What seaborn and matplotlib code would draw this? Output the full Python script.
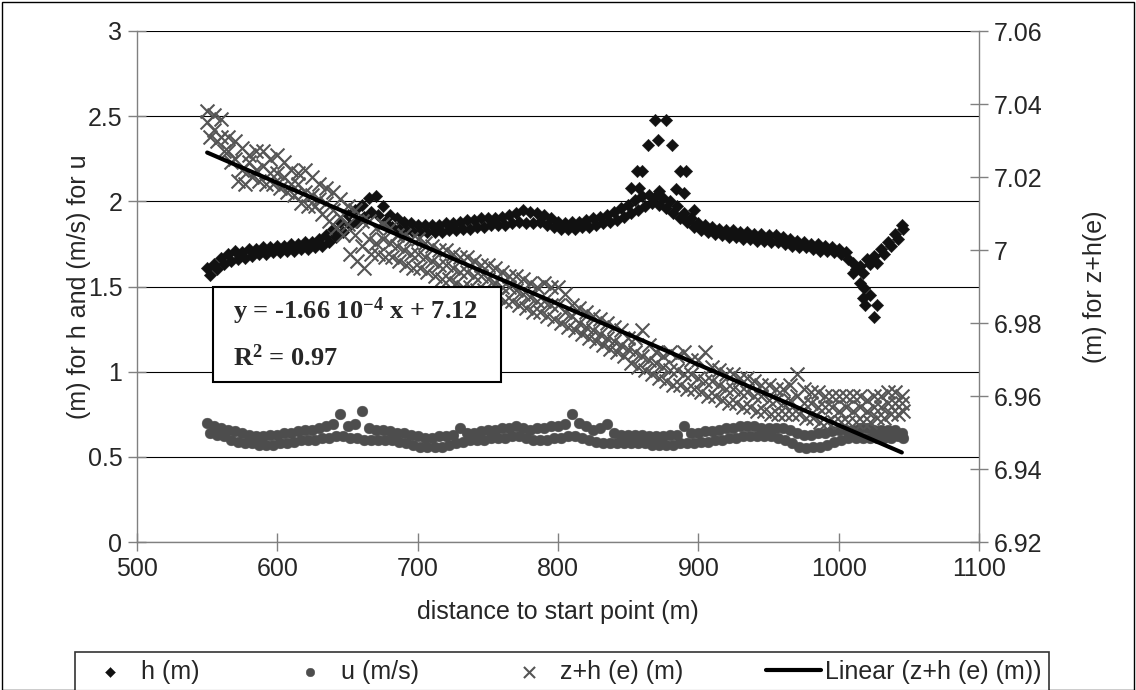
import numpy as np
import pandas as pd
import matplotlib
matplotlib.use("Agg")
import matplotlib.pyplot as plt
import seaborn as sns
from matplotlib.patches import Rectangle
from matplotlib.ticker import FuncFormatter

# distance along the reach (m), read every 5 m
DIST = [550, 555, 560, 565, 570, 575, 580, 585, 590, 595,
        600, 605, 610, 615, 620, 625, 630, 635, 640, 645,
        650, 655, 660, 665, 670, 675, 680, 685, 690, 695,
        700, 705, 710, 715, 720, 725, 730, 735, 740, 745,
        750, 755, 760, 765, 770, 775, 780, 785, 790, 795,
        800, 805, 810, 815, 820, 825, 830, 835, 840, 845,
        850, 855, 860, 865, 870, 875, 880, 885, 890, 895,
        900, 905, 910, 915, 920, 925, 930, 935, 940, 945,
        950, 955, 960, 965, 970, 975, 980, 985, 990, 995,
        1000, 1005, 1010, 1015, 1020, 1025, 1030, 1035, 1040, 1045]
# second set of readings, taken between the first ones
DIST_MID = [552, 557, 562, 567, 572, 577, 582, 587, 592, 597,
            602, 607, 612, 617, 622, 627, 632, 637, 642, 647,
            652, 657, 662, 667, 672, 677, 682, 687, 692, 697,
            702, 707, 712, 717, 722, 727, 732, 737, 742, 747,
            752, 757, 762, 767, 772, 777, 782, 787, 792, 797,
            802, 807, 812, 817, 822, 827, 832, 837, 842, 847,
            852, 857, 862, 867, 872, 877, 882, 887, 892, 897,
            902, 907, 912, 917, 922, 927, 932, 937, 942, 947,
            952, 957, 962, 967, 972, 977, 982, 987, 992, 997,
            1002, 1007, 1012, 1017, 1022, 1027, 1032, 1037, 1042, 1046]

# h (m): upper and lower edge of the band
H_A = [1.61, 1.63, 1.67, 1.69, 1.71, 1.70, 1.72, 1.72, 1.73, 1.73,
       1.74, 1.74, 1.75, 1.75, 1.76, 1.76, 1.78, 1.80, 1.84, 1.88,
       1.92, 1.95, 1.98, 2.02, 2.03, 1.97, 1.92, 1.90, 1.88, 1.87,
       1.86, 1.86, 1.86, 1.86, 1.87, 1.87, 1.88, 1.89, 1.89, 1.90,
       1.90, 1.90, 1.91, 1.92, 1.93, 1.95, 1.94, 1.93, 1.92, 1.90,
       1.88, 1.87, 1.88, 1.88, 1.89, 1.90, 1.91, 1.92, 1.94, 1.96,
       1.98, 2.01, 2.03, 2.04, 2.03, 2.02, 2.00, 1.97, 1.93, 1.90,
       1.87, 1.86, 1.85, 1.84, 1.83, 1.83, 1.82, 1.82, 1.81, 1.81,
       1.80, 1.80, 1.79, 1.78, 1.77, 1.76, 1.75, 1.75, 1.74, 1.73,
       1.72, 1.70, 1.64, 1.62, 1.66, 1.68, 1.72, 1.76, 1.81, 1.86]
H_B = [1.57, 1.60, 1.63, 1.65, 1.66, 1.67, 1.68, 1.69, 1.69, 1.70,
       1.70, 1.71, 1.71, 1.72, 1.72, 1.73, 1.74, 1.76, 1.79, 1.82,
       1.86, 1.88, 1.91, 1.94, 1.92, 1.88, 1.85, 1.84, 1.83, 1.82,
       1.82, 1.82, 1.82, 1.82, 1.83, 1.83, 1.84, 1.84, 1.85, 1.85,
       1.86, 1.86, 1.86, 1.87, 1.88, 1.87, 1.87, 1.88, 1.86, 1.85,
       1.84, 1.84, 1.84, 1.85, 1.85, 1.86, 1.87, 1.88, 1.89, 1.91,
       1.93, 1.95, 1.97, 1.99, 1.98, 1.96, 1.93, 1.90, 1.88, 1.85,
       1.83, 1.82, 1.81, 1.80, 1.79, 1.79, 1.78, 1.78, 1.77, 1.77,
       1.76, 1.76, 1.75, 1.74, 1.73, 1.73, 1.72, 1.71, 1.71, 1.70,
       1.69, 1.66, 1.60, 1.58, 1.63, 1.64, 1.69, 1.74, 1.78, 1.84]
# scattered h points around the bump at ~870 m and the dip at ~1020 m
H_EXTRA_X = [864, 869, 871, 877, 881, 856, 860, 887, 891, 852, 858, 872,
             884, 890, 897, 1010, 1015, 1017, 1018, 1019, 1025, 1027, 1022]
H_EXTRA_Y = [2.33, 2.48, 2.36, 2.48, 2.33, 2.18, 2.18, 2.18, 2.18, 2.08, 2.08, 2.06,
             2.07, 2.05, 1.95, 1.58, 1.52, 1.43, 1.49, 1.39, 1.32, 1.39, 1.45]

# u (m/s): upper and lower edge of the band
U_A = [0.70, 0.68, 0.67, 0.66, 0.65, 0.64, 0.63, 0.62, 0.62, 0.63,
       0.63, 0.64, 0.64, 0.65, 0.66, 0.66, 0.67, 0.68, 0.69, 0.75,
       0.68, 0.69, 0.77, 0.67, 0.66, 0.66, 0.65, 0.64, 0.64, 0.63,
       0.62, 0.61, 0.61, 0.62, 0.62, 0.63, 0.67, 0.64, 0.64, 0.65,
       0.66, 0.66, 0.67, 0.67, 0.68, 0.67, 0.66, 0.67, 0.67, 0.68,
       0.68, 0.69, 0.75, 0.70, 0.68, 0.66, 0.67, 0.69, 0.64, 0.63,
       0.63, 0.63, 0.63, 0.62, 0.62, 0.62, 0.63, 0.63, 0.68, 0.64,
       0.64, 0.65, 0.65, 0.66, 0.67, 0.67, 0.68, 0.68, 0.68, 0.67,
       0.67, 0.67, 0.67, 0.66, 0.64, 0.63, 0.63, 0.64, 0.64, 0.65,
       0.66, 0.66, 0.66, 0.67, 0.67, 0.66, 0.66, 0.66, 0.66, 0.64]
U_B = [0.64, 0.63, 0.62, 0.60, 0.59, 0.58, 0.58, 0.57, 0.57, 0.57,
       0.58, 0.58, 0.59, 0.60, 0.60, 0.60, 0.61, 0.61, 0.62, 0.62,
       0.61, 0.61, 0.60, 0.60, 0.60, 0.60, 0.60, 0.59, 0.58, 0.57,
       0.56, 0.56, 0.56, 0.56, 0.57, 0.58, 0.59, 0.60, 0.60, 0.60,
       0.61, 0.61, 0.61, 0.62, 0.62, 0.61, 0.60, 0.60, 0.60, 0.61,
       0.61, 0.62, 0.62, 0.61, 0.60, 0.59, 0.58, 0.58, 0.58, 0.58,
       0.58, 0.58, 0.58, 0.57, 0.57, 0.57, 0.57, 0.58, 0.58, 0.58,
       0.59, 0.59, 0.60, 0.60, 0.61, 0.61, 0.62, 0.62, 0.62, 0.62,
       0.62, 0.61, 0.60, 0.58, 0.56, 0.55, 0.56, 0.56, 0.57, 0.59,
       0.60, 0.61, 0.61, 0.61, 0.61, 0.61, 0.61, 0.61, 0.62, 0.61]

# z+h (e) (m) on the right axis: upper edge, middle and lower edge of the cloud
ZH_A = [7.038, 7.037, 7.036, 7.031, 7.030, 7.028, 7.026, 7.027, 7.027, 7.025,
        7.026, 7.024, 7.022, 7.021, 7.022, 7.020, 7.018, 7.017, 7.016, 7.014,
        7.012, 7.011, 7.008, 7.008, 7.006, 7.007, 7.006, 7.004, 7.004, 7.003,
        7.003, 7.002, 7.001, 7.000, 7.000, 6.999, 6.998, 6.998, 6.997, 6.996,
        6.996, 6.995, 6.994, 6.993, 6.993, 6.992, 6.991, 6.990, 6.991, 6.990,
        6.990, 6.988, 6.985, 6.984, 6.983, 6.982, 6.981, 6.980, 6.979, 6.978,
        6.976, 6.976, 6.978, 6.974, 6.972, 6.971, 6.972, 6.971, 6.972, 6.970,
        6.970, 6.972, 6.968, 6.967, 6.966, 6.966, 6.965, 6.965, 6.964, 6.963,
        6.963, 6.962, 6.962, 6.963, 6.966, 6.962, 6.961, 6.961, 6.960, 6.960,
        6.960, 6.960, 6.960, 6.960, 6.959, 6.960, 6.960, 6.961, 6.961, 6.960]
ZH_C = [7.035, 7.033, 7.031, 7.027, 7.025, 7.022, 7.024, 7.022, 7.023, 7.021,
        7.021, 7.020, 7.018, 7.018, 7.016, 7.015, 7.014, 7.013, 7.011, 7.009,
        7.007, 7.004, 7.001, 7.003, 7.002, 7.003, 7.002, 7.001, 7.000, 6.999,
        6.999, 6.998, 6.997, 6.996, 6.996, 6.995, 6.994, 6.994, 6.993, 6.993,
        6.992, 6.991, 6.990, 6.990, 6.989, 6.988, 6.987, 6.986, 6.986, 6.985,
        6.985, 6.983, 6.982, 6.980, 6.979, 6.978, 6.977, 6.976, 6.975, 6.974,
        6.973, 6.972, 6.971, 6.970, 6.969, 6.968, 6.967, 6.967, 6.966, 6.966,
        6.965, 6.964, 6.964, 6.963, 6.962, 6.962, 6.961, 6.961, 6.960, 6.960,
        6.959, 6.959, 6.958, 6.959, 6.960, 6.958, 6.958, 6.957, 6.957, 6.957,
        6.956, 6.957, 6.956, 6.957, 6.956, 6.957, 6.957, 6.958, 6.958, 6.958]
ZH_B = [7.031, 7.030, 7.027, 7.024, 7.019, 7.018, 7.020, 7.019, 7.018, 7.018,
        7.017, 7.016, 7.015, 7.013, 7.012, 7.012, 7.010, 7.008, 7.006, 7.004,
        6.999, 6.997, 6.995, 6.999, 6.999, 6.998, 6.998, 6.997, 6.996, 6.995,
        6.995, 6.994, 6.993, 6.992, 6.992, 6.991, 6.990, 6.990, 6.989, 6.989,
        6.988, 6.987, 6.986, 6.986, 6.985, 6.984, 6.983, 6.983, 6.982, 6.981,
        6.980, 6.979, 6.978, 6.977, 6.976, 6.975, 6.974, 6.973, 6.972, 6.971,
        6.969, 6.968, 6.967, 6.966, 6.965, 6.964, 6.963, 6.963, 6.962, 6.962,
        6.961, 6.960, 6.960, 6.959, 6.958, 6.958, 6.957, 6.957, 6.956, 6.956,
        6.955, 6.955, 6.955, 6.955, 6.955, 6.954, 6.954, 6.953, 6.953, 6.953,
        6.953, 6.953, 6.953, 6.953, 6.953, 6.954, 6.954, 6.955, 6.955, 6.956]

# Excel linear trendline of z+h (e), as printed in the box
TREND_SLOPE = -1.66e-4
TREND_INTERCEPT = 7.118
TREND_X = [550, 1045]

LABELS = ["h (m)", "u (m/s)", "z+h (e) (m)", "Linear (z+h (e) (m))"]

sns.set_style("white")
plt.rcParams["font.family"] = ["Liberation Sans", "DejaVu Sans"]
plt.rcParams["mathtext.fontset"] = "custom"
plt.rcParams["mathtext.bf"] = "Liberation Serif:bold"
plt.rcParams["mathtext.rm"] = "Liberation Serif:bold"
plt.rcParams["mathtext.default"] = "bf"

df_h = pd.DataFrame({"x": DIST + DIST_MID + H_EXTRA_X, "v": H_A + H_B + H_EXTRA_Y})
df_u = pd.DataFrame({"x": DIST + DIST_MID, "v": U_A + U_B})
df_z = pd.DataFrame({"x": DIST + DIST + DIST_MID, "v": ZH_A + ZH_C + ZH_B})
df_t = pd.DataFrame({"x": TREND_X,
                     "v": [TREND_SLOPE * x + TREND_INTERCEPT for x in TREND_X]})

fig = plt.figure(figsize=(11.36, 6.90), dpi=100)
ax = fig.add_axes([137 / 1136, 1 - 542 / 690, 842 / 1136, 511 / 690])
ax2 = ax.twinx()

sns.scatterplot(data=df_h, x="x", y="v", ax=ax, marker="D", s=40, color="#111111",
                edgecolor="#111111", linewidth=0.3, label=LABELS[0], legend=False)
sns.scatterplot(data=df_u, x="x", y="v", ax=ax, marker="o", s=60, color="#4d4d4d",
                edgecolor="#4d4d4d", linewidth=0.3, label=LABELS[1], legend=False)
sns.scatterplot(data=df_z, x="x", y="v", ax=ax2, marker="x", s=100, color="#555555",
                linewidth=1.5, label=LABELS[2], legend=False)
sns.lineplot(data=df_t, x="x", y="v", ax=ax2, color="black", linewidth=3,
             label=LABELS[3], legend=False)

ax.set_xlim(500, 1100)
ax.set_ylim(0, 3)
ax2.set_ylim(6.92, 7.06)
ax.set_xticks(range(500, 1101, 100))
ax.set_yticks(np.arange(0, 3.01, 0.5))
ax2.set_yticks(np.arange(6.92, 7.061, 0.02))
fmt = FuncFormatter(lambda v, p: "{:g}".format(round(v, 4)))
ax.yaxis.set_major_formatter(fmt)
ax2.yaxis.set_major_formatter(fmt)

ax.grid(axis="y", color="black", linewidth=0.8)
ax.grid(axis="x", visible=False)
ax.set_axisbelow(True)

for a in (ax, ax2):
    a.spines["top"].set_visible(False)
ax.spines["right"].set_visible(False)
ax2.spines["left"].set_visible(False)
ax2.spines["bottom"].set_visible(False)
for sp in (ax.spines["left"], ax.spines["bottom"], ax2.spines["right"]):
    sp.set_color("#808080")
    sp.set_linewidth(1.0)

ax.tick_params(axis="both", direction="inout", length=13, width=1, color="#808080",
               labelsize=18, pad=4, left=True, bottom=True)
ax2.tick_params(axis="y", direction="inout", length=13, width=1, color="#808080",
                labelsize=18, pad=4, right=True)

ax.set_xlabel("distance to start point (m)", fontsize=18, labelpad=14)
ax.set_ylabel("(m) for h and (m/s) for u", fontsize=18)
ax.yaxis.set_label_coords(-0.055, 0.5)
ax2.set_ylabel("(m) for z+h(e)", fontsize=18, rotation=90)
ax2.yaxis.set_label_coords(1.124, 0.5)

# trendline equation box
ax2.add_patch(Rectangle((0.0903, 0.3137), 0.342, 0.1863, transform=ax2.transAxes,
                        facecolor="white", edgecolor="black", linewidth=1.5, zorder=10))
ax2.text(0.114, 0.437, r"y = -1.66 10$^{-4}$ x + 7.12", transform=ax2.transAxes,
         fontsize=19, fontfamily="Liberation Serif", fontweight="bold",
         va="baseline", zorder=11)
ax2.text(0.114, 0.345, r"R$^2$ = 0.97", transform=ax2.transAxes,
         fontsize=19, fontfamily="Liberation Serif", fontweight="bold",
         va="baseline", zorder=11)

h1, l1 = ax.get_legend_handles_labels()
h2, l2 = ax2.get_legend_handles_labels()
leg = fig.legend(h1 + h2, l1 + l2, loc="upper left",
                 bbox_to_anchor=(75 / 1136, 1 - 652 / 690), ncol=4, fontsize=18,
                 frameon=True, fancybox=False, edgecolor="black", borderaxespad=0,
                 handlelength=2.2, handletextpad=0.15, columnspacing=3.3,
                 borderpad=0.3, markerscale=0.8)
leg.get_frame().set_linewidth(1.2)

fig.add_artist(Rectangle((0.002, 0.0), 0.996, 0.997, transform=fig.transFigure,
                         fill=False, edgecolor="black", linewidth=1.0))

fig.savefig("out.png", dpi=100)
